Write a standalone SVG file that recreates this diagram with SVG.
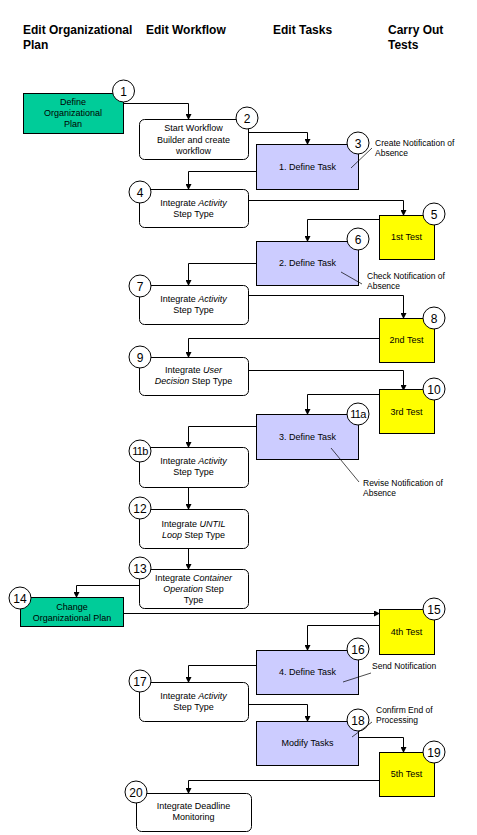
<svg xmlns="http://www.w3.org/2000/svg" width="477" height="835" viewBox="0 0 477 835">
<defs>
<marker id="ah" markerWidth="6" markerHeight="6" refX="5" refY="3" orient="auto" markerUnits="userSpaceOnUse">
<path d="M0,0 L6,3 L0,6 z" fill="#000"/>
</marker>
<style>
.hd{font-family:"Liberation Sans",Arial,sans-serif;font-size:12px;font-weight:bold;fill:#000}
.t{font-family:"Liberation Sans",Arial,sans-serif;font-size:9px;fill:#000;text-anchor:middle}
.a{font-family:"Liberation Sans",Arial,sans-serif;font-size:8.5px;fill:#000}
.n{font-family:"Liberation Sans",Arial,sans-serif;font-size:12px;fill:#000;text-anchor:middle}
.ns{font-size:11px;letter-spacing:-0.6px}
.g{fill:#00CC99;stroke:#000;stroke-width:1}
.l{fill:#CCCCFF;stroke:#000;stroke-width:1}
.y{fill:#FFFF00;stroke:#000;stroke-width:1}
.w{fill:#fff;stroke:#000;stroke-width:1}
.c{fill:#fff;stroke:#000;stroke-width:1}
.cn{fill:none;stroke:#000;stroke-width:1;marker-end:url(#ah)}
.an{fill:none;stroke:#000;stroke-width:0.7}
</style>
</defs>
<rect width="477" height="835" fill="#fff"/>
<g id="headers">
<text class="hd" x="23" y="34">Edit Organizational</text>
<text class="hd" x="23" y="49">Plan</text>
<text class="hd" x="146" y="34">Edit Workflow</text>
<text class="hd" x="273" y="34">Edit Tasks</text>
<text class="hd" x="388" y="34">Carry Out</text>
<text class="hd" x="388" y="49">Tests</text>
</g>
<g id="connectors">
<path class="cn" d="M123.5,103.5 H188.5 V119"/>
<path class="cn" d="M248.5,132.5 H307.5 V144"/>
<path class="cn" d="M256,171.5 H188.5 V189"/>
<path class="cn" d="M248.5,200.5 H403.5 V215"/>
<path class="cn" d="M379,219.5 H307.5 V241"/>
<path class="cn" d="M256,263.5 H188.5 V285"/>
<path class="cn" d="M248.5,295.5 H403.5 V318"/>
<path class="cn" d="M379,338.5 H188.5 V357"/>
<path class="cn" d="M248.5,370.5 H403.5 V390"/>
<path class="cn" d="M379,394.5 H307.5 V414"/>
<path class="cn" d="M256,426.5 H188.5 V447"/>
<path class="cn" d="M188.5,487 V509"/>
<path class="cn" d="M188.5,548 V569"/>
<path class="cn" d="M139,585.5 H76.5 V597"/>
<path class="cn" d="M123.5,613.5 H379"/>
<path class="cn" d="M379,625.5 H307.5 V650"/>
<path class="cn" d="M256,665.5 H188.5 V682"/>
<path class="cn" d="M248.5,704.5 H307.5 V721"/>
<path class="cn" d="M358.5,737.5 H403.5 V752"/>
<path class="cn" d="M379,780.5 H188.5 V793"/>
</g>
<g id="n1">
<rect class="g" x="23.5" y="93.5" width="100" height="40"/>
<text class="t" x="73" y="105">Define</text>
<text class="t" x="73" y="116">Organizational</text>
<text class="t" x="73" y="127">Plan</text>
<circle class="c" cx="123.5" cy="91" r="11"/><text class="n" x="123.5" y="95.5">1</text>
</g>
<g id="n2">
<rect class="w" x="139.5" y="119.5" width="109" height="40" rx="5"/>
<text class="t" x="193.5" y="131">Start Workflow</text>
<text class="t" x="193.5" y="142.5">Builder and create</text>
<text class="t" x="193.5" y="154">workflow</text>
<circle class="c" cx="247" cy="118" r="11"/><text class="n" x="247" y="122.5">2</text>
</g>
<g id="n3">
<rect class="l" x="256.5" y="144.5" width="102" height="45"/>
<text class="t" x="307.5" y="170">1. Define Task</text>
<circle class="c" cx="358" cy="143" r="11"/><text class="n" x="358" y="147.5">3</text>
<path class="an" d="M351,168 L372,148"/>
<text class="a" x="375" y="146">Create Notification of</text>
<text class="a" x="375" y="156">Absence</text>
</g>
<g id="n4">
<rect class="w" x="139.5" y="189.5" width="109" height="38" rx="5"/>
<text class="t" x="193.5" y="206">Integrate <tspan font-style="italic">Activity</tspan></text>
<text class="t" x="193.5" y="217">Step Type</text>
<circle class="c" cx="140" cy="192" r="11"/><text class="n" x="140" y="196.5">4</text>
</g>
<g id="n5">
<rect class="y" x="379.5" y="215.5" width="55" height="44"/>
<text class="t" x="406.5" y="240">1st Test</text>
<circle class="c" cx="434" cy="214" r="11"/><text class="n" x="434" y="218.5">5</text>
</g>
<g id="n6">
<rect class="l" x="256.5" y="241.5" width="102" height="44"/>
<text class="t" x="307.5" y="266">2. Define Task</text>
<circle class="c" cx="358" cy="239" r="11"/><text class="n" x="358" y="243.5">6</text>
<path class="an" d="M341,272 L362,284"/>
<text class="a" x="367" y="279">Check Notification of</text>
<text class="a" x="367" y="289">Absence</text>
</g>
<g id="n7">
<rect class="w" x="139.5" y="285.5" width="109" height="39" rx="5"/>
<text class="t" x="193.5" y="302">Integrate <tspan font-style="italic">Activity</tspan></text>
<text class="t" x="193.5" y="313">Step Type</text>
<circle class="c" cx="140" cy="286" r="11"/><text class="n" x="140" y="290.5">7</text>
</g>
<g id="n8">
<rect class="y" x="379.5" y="318.5" width="55" height="44"/>
<text class="t" x="406.5" y="343">2nd Test</text>
<circle class="c" cx="434" cy="318" r="11"/><text class="n" x="434" y="322.5">8</text>
</g>
<g id="n9">
<rect class="w" x="139.5" y="357.5" width="109" height="38" rx="5"/>
<text class="t" x="193.5" y="372.5">Integrate <tspan font-style="italic">User</tspan></text>
<text class="t" x="193.5" y="384"><tspan font-style="italic">Decision</tspan> Step Type</text>
<circle class="c" cx="140" cy="357" r="11"/><text class="n" x="140" y="361.5">9</text>
</g>
<g id="n10">
<rect class="y" x="379.5" y="389.5" width="55" height="44"/>
<text class="t" x="406.5" y="415">3rd Test</text>
<circle class="c" cx="434" cy="389" r="11"/><text class="n" x="434" y="393.5">10</text>
</g>
<g id="n11a">
<rect class="l" x="256.5" y="414.5" width="102" height="45"/>
<text class="t" x="307.5" y="440">3. Define Task</text>
<circle class="c" cx="358" cy="414" r="11"/><text class="n ns" x="358" y="418">11a</text>
<path class="an" d="M331,448 L359,482"/>
<text class="a" x="363" y="486">Revise Notification of</text>
<text class="a" x="363" y="496">Absence</text>
</g>
<g id="n11b">
<rect class="w" x="139.5" y="447.5" width="109" height="40" rx="5"/>
<text class="t" x="193.5" y="464">Integrate <tspan font-style="italic">Activity</tspan></text>
<text class="t" x="193.5" y="475">Step Type</text>
<circle class="c" cx="140" cy="451" r="11"/><text class="n ns" x="140" y="455">11b</text>
</g>
<g id="n12">
<rect class="w" x="139.5" y="509.5" width="109" height="39" rx="5"/>
<text class="t" x="193.5" y="527">Integrate <tspan font-style="italic">UNTIL</tspan></text>
<text class="t" x="193.5" y="538"><tspan font-style="italic">Loop</tspan> Step Type</text>
<circle class="c" cx="140" cy="508" r="11"/><text class="n" x="140" y="512.5">12</text>
</g>
<g id="n13">
<rect class="w" x="139.5" y="569.5" width="109" height="39" rx="5"/>
<text class="t" x="193.5" y="581">Integrate <tspan font-style="italic">Container</tspan></text>
<text class="t" x="193.5" y="592"><tspan font-style="italic">Operation</tspan> Step</text>
<text class="t" x="193.5" y="603">Type</text>
<circle class="c" cx="140" cy="568" r="11"/><text class="n" x="140" y="572.5">13</text>
</g>
<g id="n14">
<rect class="g" x="20.5" y="597.5" width="103" height="29"/>
<text class="t" x="72" y="610">Change</text>
<text class="t" x="72" y="621">Organizational Plan</text>
<circle class="c" cx="20" cy="598" r="11"/><text class="n" x="20" y="602.5">14</text>
</g>
<g id="n15">
<rect class="y" x="379.5" y="609.5" width="55" height="45"/>
<text class="t" x="406.5" y="635">4th Test</text>
<circle class="c" cx="434" cy="609" r="11"/><text class="n" x="434" y="613.5">15</text>
</g>
<g id="n16">
<rect class="l" x="256.5" y="650.5" width="102" height="44"/>
<text class="t" x="307.5" y="675">4. Define Task</text>
<circle class="c" cx="358" cy="649" r="11"/><text class="n" x="358" y="653.5">16</text>
<path class="an" d="M343,682 L371,673"/>
<text class="a" x="372" y="669">Send Notification</text>
</g>
<g id="n17">
<rect class="w" x="139.5" y="682.5" width="109" height="39" rx="5"/>
<text class="t" x="193.5" y="699">Integrate <tspan font-style="italic">Activity</tspan></text>
<text class="t" x="193.5" y="710">Step Type</text>
<circle class="c" cx="140" cy="681" r="11"/><text class="n" x="140" y="685.5">17</text>
</g>
<g id="n18">
<rect class="l" x="256.5" y="721.5" width="102" height="44"/>
<text class="t" x="307.5" y="746">Modify Tasks</text>
<circle class="c" cx="358" cy="720" r="11"/><text class="n" x="358" y="724.5">18</text>
<path class="an" d="M352,737 L372,722"/>
<text class="a" x="376" y="713">Confirm End of</text>
<text class="a" x="376" y="723">Processing</text>
</g>
<g id="n19">
<rect class="y" x="379.5" y="752.5" width="55" height="44"/>
<text class="t" x="406.5" y="777">5th Test</text>
<circle class="c" cx="434" cy="752" r="11"/><text class="n" x="434" y="756.5">19</text>
</g>
<g id="n20">
<rect class="w" x="136.5" y="793.5" width="115" height="38" rx="5"/>
<text class="t" x="193.5" y="809">Integrate Deadline</text>
<text class="t" x="193.5" y="820">Monitoring</text>
<circle class="c" cx="136" cy="792" r="11"/><text class="n" x="136" y="796.5">20</text>
</g>
</svg>
